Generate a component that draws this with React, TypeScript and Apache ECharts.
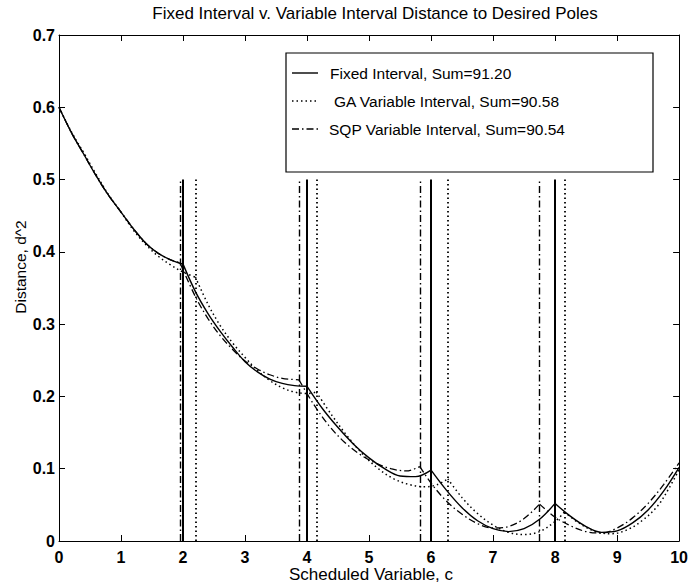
import React, { useEffect, useRef } from "react";
import * as echarts from "echarts";

// ---- data ----
const fixedX = [0, 0.2, 0.4, 0.6, 0.8, 1.0, 1.2, 1.4, 1.6, 1.8, 2.0, 2.2, 2.4, 2.6, 2.8, 3.0, 3.2, 3.4, 3.6, 3.8, 4.0, 4.25, 4.5, 4.75, 5.0, 5.25, 5.5, 5.75, 6.0, 6.25, 6.5, 6.75, 7.0, 7.25, 7.5, 7.75, 8.0, 8.25, 8.5, 8.75, 9.0, 9.25, 9.5, 9.75, 10];
const fixedY = [0.600, 0.565, 0.535, 0.505, 0.478, 0.455, 0.432, 0.412, 0.398, 0.389, 0.383, 0.345, 0.315, 0.290, 0.268, 0.248, 0.234, 0.224, 0.218, 0.215, 0.214, 0.183, 0.157, 0.134, 0.115, 0.100, 0.090, 0.089, 0.098, 0.070, 0.046, 0.028, 0.017, 0.013, 0.017, 0.030, 0.052, 0.034, 0.020, 0.012, 0.014, 0.025, 0.043, 0.069, 0.102];
const fixedBreaks = [2, 4, 6, 8];

const gaX = [0, 0.2, 0.4, 0.6, 0.8, 1.0, 1.2, 1.4, 1.6, 1.8, 2.0, 2.2, 2.4, 2.6, 2.8, 3.0, 3.2, 3.4, 3.6, 3.8, 4.0, 4.15, 4.4, 4.65, 4.9, 5.15, 5.4, 5.65, 5.9, 6.1, 6.27, 6.5, 6.75, 7.0, 7.25, 7.5, 7.75, 8.0, 8.15, 8.4, 8.65, 8.9, 9.15, 9.4, 9.65, 9.85, 10];
const gaY = [0.600, 0.566, 0.537, 0.507, 0.479, 0.455, 0.430, 0.410, 0.394, 0.382, 0.372, 0.365, 0.328, 0.298, 0.274, 0.254, 0.236, 0.222, 0.212, 0.206, 0.204, 0.206, 0.174, 0.145, 0.120, 0.100, 0.086, 0.078, 0.075, 0.078, 0.086, 0.060, 0.038, 0.022, 0.012, 0.009, 0.013, 0.027, 0.040, 0.024, 0.013, 0.010, 0.015, 0.028, 0.048, 0.075, 0.099];
const gaBreaks = [2.2, 4.15, 6.27, 8.15];

const sqpX = [0, 0.2, 0.4, 0.6, 0.8, 1.0, 1.2, 1.4, 1.6, 1.8, 1.95, 2.2, 2.4, 2.6, 2.8, 3.0, 3.2, 3.4, 3.6, 3.87, 4.1, 4.35, 4.6, 4.85, 5.1, 5.35, 5.6, 5.82, 6.0, 6.25, 6.5, 6.75, 7.0, 7.25, 7.5, 7.75, 8.0, 8.25, 8.5, 8.75, 9.0, 9.25, 9.5, 9.75, 10];
const sqpY = [0.600, 0.565, 0.535, 0.505, 0.478, 0.455, 0.432, 0.412, 0.398, 0.389, 0.385, 0.338, 0.308, 0.284, 0.265, 0.249, 0.238, 0.230, 0.225, 0.223, 0.190, 0.160, 0.137, 0.120, 0.108, 0.100, 0.097, 0.103, 0.080, 0.055, 0.037, 0.024, 0.018, 0.020, 0.031, 0.051, 0.033, 0.021, 0.013, 0.011, 0.018, 0.032, 0.052, 0.078, 0.108];
const sqpBreaks = [1.95, 3.87, 5.82, 7.75];

const breakTop = 0.5;

const legendNames = [
  "Fixed Interval, Sum=91.20",
  "GA Variable Interval, Sum=90.58",
  "SQP Variable Interval, Sum=90.54",
];

const titleText = "Fixed Interval v. Variable Interval Distance to Desired Poles";
const xName = "Scheduled Variable, c";
const yName = "Distance, d^2";

const FONT = "'Liberation Sans', Arial, Helvetica, sans-serif";

const solidStyle = { color: "#000", width: 1.4, type: "solid" as any };
const dotStyle = { color: "#000", width: 1.5, type: [1.5, 3] as any };
const dashDotStyle = { color: "#000", width: 1.3, type: [7, 3, 1.5, 3] as any };

function splitSegments(xs: number[], ys: number[], breaks: number[]) {
  const segs: number[][][] = [];
  let cur: number[][] = [];
  xs.forEach((x, i) => {
    cur.push([x, ys[i]]);
    if (breaks.includes(x)) {
      segs.push(cur);
      cur = [[x, ys[i]]];
    }
  });
  if (cur.length > 1) segs.push(cur);
  return segs;
}

function methodSeries(xs: number[], ys: number[], breaks: number[], lineStyle: any, vWidth: number) {
  const segs = splitSegments(xs, ys, breaks);
  const out: any[] = segs.map((seg) => ({
    type: "line",
    data: seg,
    showSymbol: false,
    smooth: 0.35,
    lineStyle,
    silent: true,
    z: 3,
  }));
  out.push({
    type: "line",
    data: [],
    silent: true,
    markLine: {
      silent: true,
      symbol: "none",
      label: { show: false },
      lineStyle: { ...lineStyle, width: vWidth },
      data: breaks.map((b) => [
        { coord: [b, 0] },
        { coord: [b, breakTop] },
      ]),
    },
  });
  return out;
}

export default function App() {
  const ref = useRef<HTMLDivElement>(null);
  useEffect(() => {
    const chart = echarts.init(ref.current!, null, { renderer: "svg" });
    const axisCommon = {
      axisLine: { show: true, onZero: false, lineStyle: { color: "#000", width: 1 } },
      axisTick: { show: true, inside: true, length: 6, lineStyle: { color: "#000", width: 1 } },
      splitLine: { show: false },
    };
    const labelStyle = { color: "#000", fontSize: 16, fontFamily: FONT, fontWeight: "bold" as any };

    const legendX0 = 292;
    const legendX1 = 318;
    const rowsY = [73, 101, 129];
    const legendStyles = [solidStyle, dotStyle, dashDotStyle];
    const textX = [330, 334, 329];

    const graphics: any[] = [
      {
        type: "text",
        x: 375,
        y: 13,
        style: { text: titleText, font: `17px ${FONT}`, fill: "#000", align: "center", verticalAlign: "middle" },
      },
      {
        type: "text",
        x: 371,
        y: 574,
        style: { text: xName, font: `17px ${FONT}`, fill: "#000", align: "center", verticalAlign: "middle" },
      },
      {
        type: "text",
        x: 20,
        y: 267,
        rotation: Math.PI / 2,
        style: { text: yName, font: `15.5px ${FONT}`, fill: "#000", align: "center", verticalAlign: "middle" },
      },
      {
        type: "rect",
        shape: { x: 286, y: 53, width: 367, height: 119 },
        style: { fill: "#fff", stroke: "#000", lineWidth: 1.2 },
        z: 10,
      },
    ];
    legendNames.forEach((name, i) => {
      const ls = legendStyles[i];
      graphics.push({
        type: "line",
        z: 11,
        shape: { x1: legendX0, y1: rowsY[i], x2: legendX1, y2: rowsY[i] },
        style: { stroke: "#000", lineWidth: ls.width, lineDash: Array.isArray(ls.type) ? ls.type : null },
      });
      graphics.push({
        type: "text",
        z: 11,
        x: textX[i],
        y: rowsY[i],
        style: { text: name, font: `15.5px ${FONT}`, fill: "#000", align: "left", verticalAlign: "middle" },
      });
    });

    chart.setOption({
      animation: false,
      backgroundColor: "#fff",
      grid: { left: 59, right: 8, top: 35, bottom: 45, containLabel: false },
      xAxis: [
        {
          type: "value", min: 0, max: 10, interval: 1, position: "bottom",
          ...axisCommon,
          axisLabel: { ...labelStyle, margin: 8 },
        },
        {
          type: "value", min: 0, max: 10, interval: 1, position: "top",
          ...axisCommon,
          axisLabel: { show: false },
        },
      ],
      yAxis: [
        {
          type: "value", min: 0, max: 0.7, interval: 0.1, position: "left",
          ...axisCommon,
          axisLabel: { ...labelStyle, margin: 4, formatter: (v: number) => (v === 0 ? "0" : v.toFixed(1)) },
        },
        {
          type: "value", min: 0, max: 0.7, interval: 0.1, position: "right",
          ...axisCommon,
          axisLabel: { show: false },
        },
      ],
      series: [
        ...methodSeries(fixedX, fixedY, fixedBreaks, solidStyle, 2),
        ...methodSeries(gaX, gaY, gaBreaks, dotStyle, 1.8),
        ...methodSeries(sqpX, sqpY, sqpBreaks, dashDotStyle, 1.4),
      ],
      graphic: graphics,
    });
    return () => chart.dispose();
  }, []);
  return (
    <div
      ref={ref}
      style={{ position: "absolute", left: 0, top: 0, width: 691, height: 586 }}
    />
  );
}
